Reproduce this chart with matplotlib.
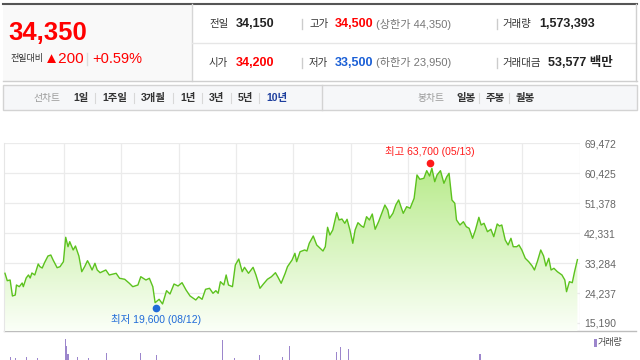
import numpy as np
import matplotlib
matplotlib.use('Agg')
import matplotlib.pyplot as plt
from matplotlib.colors import LinearSegmentedColormap
from matplotlib.patches import Rectangle

# Fuentes: latinas primero, coreano como respaldo
plt.rcParams['font.family'] = ['Liberation Sans', 'Noto Sans CJK KR', 'DejaVu Sans']

# ---- Datos del encabezado ----
price_now = '34,350'
change_label = '전일대비'
change_abs = '▲200'
change_pct = '+0.59%'
row1 = [('전일', '34,150', '#222222'), ('고가', '34,500', '#ff0000'), ('거래량', '1,573,393', '#222222')]
row2 = [('시가', '34,200', '#ff0000'), ('저가', '33,500', '#1a5fd6'), ('거래대금', '53,577 백만', '#222222')]
limit_up = '(상한가 44,350)'
limit_down = '(하한가 23,950)'

line_tabs = ['1일', '1주일', '3개월', '1년', '3년', '5년', '10년']
candle_tabs = ['일봉', '주봉', '월봉']

# ---- Serie de precios (años desde el primer corte de la cuadrícula) ----
years = [-1.03, -0.99, -0.94, -0.90, -0.85, -0.83, -0.78, -0.73, -0.71, -0.66,
         -0.62, -0.59, -0.56, -0.51, -0.45, -0.42, -0.38, -0.34, -0.28, -0.23,
         -0.19, -0.12, -0.07, -0.01, 0.03, 0.07, 0.10, 0.16, 0.20, 0.26,
         0.31, 0.36, 0.41, 0.45, 0.49, 0.54, 0.58, 0.63,
         0.73, 0.79, 0.91, 0.97, 1.06, 1.14, 1.20, 1.29, 1.34, 1.43,
         1.49, 1.55, 1.59, 1.66, 1.72, 1.79, 1.85, 1.92, 1.99, 2.06,
         2.13, 2.20, 2.30,
         2.35, 2.41, 2.47, 2.54, 2.60, 2.65, 2.69, 2.73, 2.79, 2.83,
         2.87, 2.94, 2.99, 3.05, 3.11, 3.15, 3.22, 3.30, 3.35, 3.42,
         3.48, 3.55, 3.62, 3.69, 3.73, 3.79, 3.86, 3.90,
         3.98, 4.03, 4.06, 4.12, 4.20, 4.24, 4.28, 4.35, 4.41, 4.47,
         4.52, 4.56, 4.60, 4.64, 4.69, 4.76, 4.80, 4.85, 4.90, 4.94,
         4.99, 5.04, 5.08, 5.13, 5.19, 5.23, 5.28, 5.33, 5.38, 5.43,
         5.49, 5.55, 5.60, 5.65,
         5.68, 5.74, 5.79, 5.84, 5.88, 5.92, 5.98, 6.04, 6.11, 6.16,
         6.21, 6.28, 6.33, 6.38, 6.42, 6.47, 6.51, 6.57, 6.63, 6.68,
         6.72, 6.77, 6.82, 6.85, 6.91, 6.97, 7.02, 7.07, 7.13, 7.18,
         7.24, 7.28, 7.33,
         7.39, 7.45, 7.50, 7.56, 7.60, 7.64, 7.70, 7.75, 7.80, 7.84,
         7.90, 7.94, 7.99, 8.05, 8.11, 8.17, 8.21, 8.26, 8.32, 8.37,
         8.41, 8.46, 8.50, 8.55, 8.61, 8.69, 8.74, 8.77, 8.82, 8.87,
         8.91, 8.96]
close = [30220, 27980, 28190, 23360, 23660, 26680, 26170, 27290, 26170, 28800,
         29710, 28800, 30310, 29710, 33030, 32220, 31820, 33420, 35450, 35750,
         34240, 31910, 32220, 33730, 41110, 38260, 39780, 37270, 38470, 35450,
         30700, 32220, 34030, 32730, 31220, 33240, 31220, 30400,
         31220, 29710, 30220, 28710, 28410, 27200, 26170, 26680, 29190, 28190,
         28710, 26170, 21330, 22360, 20940, 24960, 23960, 26980, 26380, 27380,
         25170, 23360, 22150,
         23140, 22360, 25380, 25680, 24170, 24960, 24170, 27680, 26680, 29710,
         26680, 26170, 32730, 34540, 30700, 32030, 30220, 32030, 29710, 25680,
         26980, 28410, 29190, 30400, 29190, 27200, 30220, 32220,
         34240, 36270, 33730, 36750, 37270, 36960, 39290, 41500, 38780, 37780,
         36960, 38260, 44130, 41800, 43310, 48550, 46340, 46640, 45340, 46550,
         43310, 39290, 43310, 45520, 44520, 44130, 47340, 46340, 48150, 43530,
         45820, 48550, 50870, 49360,
         46850, 48360, 50870, 52390, 50360, 48360, 50360, 49880, 52900, 59950,
         58650, 58950, 61250, 59640, 61970, 57920, 59950, 61250, 57440, 59430,
         60460, 52390, 51390, 46340, 44830, 45820, 44310, 43830, 40800, 43310,
         47150, 44830, 45340,
         42800, 43530, 41290, 45130, 44520, 44830, 40290, 38780, 40800, 38260,
         38260, 38780, 37270, 34760, 33730, 32430, 31220, 33730, 37270, 35450,
         32430, 34760, 31220, 31730, 30700, 29710, 28190, 24660, 27680, 27380,
         30700, 34350]

# Máximo y mínimo del periodo
high_t, high_val, high_label = 6.38, 63700, '최고 63,700 (05/13)'
low_t, low_val, low_label = 1.61, 19600, '최저 19,600 (08/12)'

y_ticks = [15190, 24237, 33284, 42331, 51378, 60425, 69472]

# Volumen (millones de acciones, aprox.)
vol_t = [-0.94, -0.84, -0.65, -0.47, 0.02, 0.03, 0.05, 0.07, 0.24, 0.42,
         0.75, 1.34, 1.61, 2.77, 2.97, 3.42, 3.82, 3.93, 4.75, 4.82, 4.97, 7.26]
vol = [1.5, 1.0, 1.5, 1.0, 6.0, 10.5, 7.0, 3.0, 1.5, 1.0,
       3.5, 3.5, 2.5, 10.0, 1.0, 2.5, 1.5, 7.0, 4.0, 6.5, 5.5, 3.0]

# ---- Figura ----
fig = plt.figure(figsize=(6.4, 3.6), dpi=100)
bg = fig.add_axes([0, 0, 1, 1])
bg.set_xlim(0, 640)
bg.set_ylim(360, 0)
bg.axis('off')

# Caja del encabezado
bg.add_patch(Rectangle((3, 4), 189, 77, facecolor='#f9f9f9', edgecolor='none'))
bg.plot([3, 637], [4, 4], color='#555555', lw=1.5)
bg.plot([192, 192], [4, 81], color='#d6d6d6', lw=1)
bg.plot([192, 636], [43, 43], color='#e6e6e6', lw=1)
bg.plot([636, 636], [4, 81], color='#d0d0d0', lw=1)
bg.plot([3, 637], [81, 81], color='#cfcfcf', lw=1)

bg.text(8, 33, price_now, fontsize=18.5, fontweight='bold', color='#ff0000', va='center')
bg.text(10, 59, change_label, fontsize=6.5, color='#333333', va='center')
bg.text(44, 59, change_abs, fontsize=11, color='#ff0000', va='center')
bg.plot([87, 87], [53, 65], color='#dddddd', lw=1)
bg.text(92, 59, change_pct, fontsize=10.5, color='#ff0000', va='center')

label_x = [209, 309, 502]
value_x = [236, 335, 539]
for row, yy in [(row1, 24), (row2, 63)]:
    for (lab, val, col), lx, vx in zip(row, label_x, value_x):
        bg.text(lx, yy, lab, fontsize=7.5, color='#333333', va='center')
        off = 9 if lab == '거래대금' else 0
        bg.text(vx + off, yy, val, fontsize=9, fontweight='bold', color=col, va='center')
    for sx in [302, 497]:
        bg.plot([sx, sx], [yy - 5, yy + 5], color='#cccccc', lw=1)
bg.text(376, 24, limit_up, fontsize=8, color='#777777', va='center')
bg.text(376, 63, limit_down, fontsize=8, color='#777777', va='center')

# Barra de pestañas
bg.add_patch(Rectangle((3, 85), 634, 25, facecolor='#f6f7f9', edgecolor='#d3d3d3', lw=1))
bg.plot([322, 322], [85, 110], color='#d3d3d3', lw=1)
bg.text(33, 98, '선차트', fontsize=7, color='#999999', va='center')
tab_x = [73, 102, 141, 180, 209, 238, 266]
for i, (lab, tx) in enumerate(zip(line_tabs, tab_x)):
    col = '#1e3f9e' if lab == '10년' else '#333333'
    bg.text(tx, 98, lab, fontsize=7.5, fontweight='bold', color=col, va='center')
    if i > 0:
        bg.plot([tx - 7, tx - 7], [93, 103], color='#d8d8d8', lw=0.8)
bg.text(417, 98, '봉차트', fontsize=7, color='#999999', va='center')
for i, (lab, tx) in enumerate(zip(candle_tabs, [456, 486, 516])):
    bg.text(tx, 98, lab, fontsize=7.5, fontweight='bold', color='#333333', va='center')
    if i > 0:
        bg.plot([tx - 7, tx - 7], [93, 103], color='#d8d8d8', lw=0.8)

# Línea base del gráfico
bg.plot([4, 636], [331, 331], color='#bdbdbd', lw=1)

# ---- Gráfico de precios ----
ymin, ymax = 12770, 69620
ax = fig.add_axes([4 / 640, 1 - 331 / 360, 576 / 640, 188 / 360])
ax.set_facecolor('none')

fill = ax.fill_between(years, close, ymin, facecolor='none', edgecolor='none')
cmap = LinearSegmentedColormap.from_list('fade', ['#fbfff8', '#b6ea88'])
grad = np.linspace(0, 1, 256).reshape(-1, 1)
im = ax.imshow(grad, extent=[years[0], years[-1], ymin, 64000], origin='lower',
               aspect='auto', cmap=cmap, zorder=1)
im.set_clip_path(fill.get_paths()[0], transform=ax.transData)

ax.plot(years, close, color='#5cc21e', lw=1.0, zorder=3)

# Máximo y mínimo
ax.plot(high_t, high_val, 'o', color='#ff1a1a', ms=4.5, zorder=4)
ax.annotate(high_label, (high_t, high_val), xytext=(0, 11), textcoords='offset pixels',
            ha='center', va='center', fontsize=7.5, color='#ff1a1a')
ax.plot(low_t, low_val, 'o', color='#1f6ad8', ms=4.5, zorder=4)
ax.annotate(low_label, (low_t, low_val), xytext=(0, -11), textcoords='offset pixels',
            ha='center', va='center', fontsize=7.5, color='#1f6ad8')

ax.set_xlim(-1.047, 9.005)
ax.set_ylim(ymin, ymax)
ax.set_xticks(range(0, 10))
ax.set_yticks(y_ticks)
ax.set_yticklabels([f'{v:,}' for v in y_ticks])
ax.yaxis.tick_right()
ax.tick_params(axis='x', length=0, labelbottom=False)
ax.tick_params(axis='y', length=0, pad=3, labelsize=7.5, labelcolor='#666666')
ax.grid(color='#ebebeb', lw=0.9, zorder=0)
ax.set_axisbelow(True)
for side in ['top', 'right', 'bottom']:
    ax.spines[side].set_visible(False)
ax.spines['left'].set_color('#e6e6e6')

# ---- Volumen ----
axv = fig.add_axes([4 / 640, 0, 576 / 640, 27 / 360])
axv.bar(vol_t, vol, width=0.018, color='#9c86cc', align='center')
axv.set_xlim(-1.047, 9.005)
axv.set_ylim(0, 13.5)
axv.axis('off')

bg.add_patch(Rectangle((594, 339), 2.5, 8, facecolor='#9c86cc', edgecolor='none'))
bg.text(598, 343, '거래량', fontsize=6.5, color='#444444', va='center')

plt.savefig('out.png', dpi=100)
